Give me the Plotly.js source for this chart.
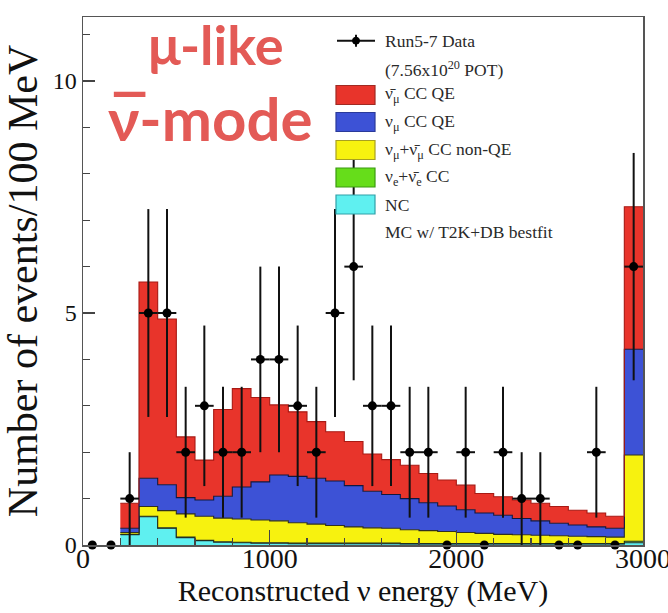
<!DOCTYPE html>
<html>
<head>
<meta charset="utf-8">
<script src="https://cdn.plot.ly/plotly-3.0.1.min.js"></script>
<style>html,body{margin:0;padding:0;background:#fff;}#chart{width:668px;height:613px;}</style>
</head>
<body>
<div id="chart"></div>
<script>
// ---------- data ----------
// MC bin edges (MeV), bins of 100 MeV from 200 to 3000 (last bin = overflow)
const mcEdges = [200,300,400,500,600,700,800,900,1000,1100,1200,1300,1400,1500,1600,1700,1800,1900,2000,2100,2200,2300,2400,2500,2600,2700,2800,2900,3000];
// components (events / 100 MeV) per bin
const mcNC      = [0.22,0.61,0.36,0.16,0.09,0.06,0.05,0.04,0.04,0.03,0.03,0.03,0.03,0.03,0.03,0.02,0.02,0.02,0.02,0.02,0.02,0.02,0.02,0.02,0.02,0.02,0.02,0.05];
const mcNueCC   = [0.01,0.01,0.01,0.01,0.01,0.01,0.01,0.01,0.01,0.01,0.01,0.01,0.01,0.01,0.01,0.01,0.01,0.01,0.01,0.01,0.01,0.01,0.01,0.01,0.01,0.01,0.01,0.03];
const mcNonQE   = [0.04,0.21,0.37,0.50,0.52,0.51,0.50,0.49,0.47,0.44,0.41,0.38,0.35,0.33,0.32,0.30,0.28,0.26,0.24,0.22,0.20,0.19,0.18,0.17,0.16,0.15,0.14,1.86];
const mcNumuQE  = [0.09,0.61,0.56,0.35,0.35,0.47,0.69,0.82,0.99,1.00,0.99,0.96,0.89,0.79,0.73,0.67,0.60,0.55,0.49,0.44,0.41,0.35,0.31,0.27,0.24,0.21,0.19,2.28];
const mcNumubQE = [0.54,4.23,3.57,1.31,0.86,1.87,2.12,1.82,1.51,1.39,1.22,1.06,0.95,0.80,0.75,0.72,0.63,0.56,0.53,0.42,0.40,0.40,0.38,0.36,0.32,0.30,0.26,3.07];

// data points (bin centres, counts, errors)
const dataE   = [50,150,250,350,450,550,650,750,850,950,1050,1150,1250,1350,1450,1550,1650,1750,1850,1950,2050,2150,2250,2350,2450,2550,2650,2750,2850,2950];
const dataN   = [0,0,1,5,5,2,3,2,2,4,4,3,2,5,6,3,3,2,2,0,2,0,2,1,1,0,0,2,0,6];
const dataErr = [0,0,1,2.24,2.24,1.41,1.73,1.41,1.41,2,2,1.73,1.41,2.24,2.45,1.73,1.73,1.41,1.41,0,1.41,0,1.41,1,1,0,0,1.41,0,2.45];
const dataXErr= [0,0,50,50,50,50,50,50,50,50,50,50,50,50,50,50,50,50,50,0,50,0,50,50,50,0,0,50,0,50];

// legend labels
const legendLabels = ['Run5-7 Data','(7.56x10<sup>20</sup> POT)','ν\u0304<sub>μ</sub> CC QE','ν<sub>μ</sub> CC QE','ν<sub>μ</sub>+ν\u0304<sub>μ</sub> CC non-QE','ν<sub>e</sub>+ν\u0304<sub>e</sub> CC','NC','MC w/ T2K+DB bestfit'];

// ---------- styling ----------
const COL = {nc:'#5ff0f0', nue:'#66dd1a', nonqe:'#f7f20f', numu:'#3d52d6', numub:'#e8342b'};
const SERIF = 'Liberation Serif, Times New Roman, serif';
const SANS = 'Lato, Open Sans, sans-serif';

const layers = [
  {name:'NC', vals:mcNC, color:COL.nc, line:'#203040'},
  {name:'νe+ν̄e CC', vals:mcNueCC, color:COL.nue, line:'#203020'},
  {name:'νμ+ν̄μ CC non-QE', vals:mcNonQE, color:COL.nonqe, line:'#303020'},
  {name:'νμ CC QE', vals:mcNumuQE, color:COL.numu, line:'#101840'},
  {name:'ν̄μ CC QE', vals:mcNumubQE, color:COL.numub, line:'#a81a14'}
];

const traces = [];
let cum = mcEdges.slice(0, mcEdges.length-1).map(()=>0);
layers.forEach((L, i) => {
  cum = cum.map((c, k) => c + L.vals[k]);
  const ys = cum.concat([cum[cum.length-1]]);
  traces.push({
    type:'scatter', mode:'lines', x: mcEdges, y: ys, name: L.name,
    line:{shape:'hv', color:L.line, width:1.1},
    fill: i===0 ? 'tozeroy' : 'tonexty', fillcolor: L.color,
    showlegend:false, hoverinfo:'skip'
  });
});

traces.push({
  type:'scatter', mode:'markers', x:dataE, y:dataN, name:'Run5-7 Data',
  marker:{color:'#000', size:9, symbol:'circle'},
  error_y:{type:'data', array:dataErr, visible:true, color:'#111', thickness:2, width:0},
  error_x:{type:'data', array:dataXErr, visible:true, color:'#111', thickness:2, width:0},
  cliponaxis:false, showlegend:false
});

// ---------- custom ROOT-like legend ----------
const M = {l:83, r:25, t:17, b:68};
const PW = 668 - M.l - M.r, PH = 613 - M.t - M.b;
const px = x => (x - M.l) / PW;
const py = y => (613 - M.b - y) / PH;

const rowY = [40.7, 68.5, 95, 122, 150, 177.5, 204.5, 231.5];
const boxColors = [null, null, COL.numub, COL.numu, COL.nonqe, COL.nue, COL.nc, null];
const boxLines  = [null, null, '#a02a22', '#2a3a9a', '#a8a020', '#3a9a10', '#30a0a8', null];
const shapes = [];
const annotations = [];

// data icon
shapes.push({type:'line', xref:'paper', yref:'paper', x0:px(337), x1:px(375), y0:py(rowY[0]), y1:py(rowY[0]), line:{color:'#111', width:2}});
shapes.push({type:'line', xref:'paper', yref:'paper', x0:px(356), x1:px(356), y0:py(rowY[0]-6), y1:py(rowY[0]+6), line:{color:'#111', width:2}});
shapes.push({type:'circle', xref:'paper', yref:'paper', x0:px(352.5), x1:px(359.5), y0:py(rowY[0]-3.5), y1:py(rowY[0]+3.5), fillcolor:'#000', line:{color:'#000', width:1}});

legendLabels.forEach((lab, i) => {
  if (boxColors[i]) {
    shapes.push({type:'rect', xref:'paper', yref:'paper', x0:px(336), x1:px(375), y0:py(rowY[i]-9.5), y1:py(rowY[i]+9.5),
      fillcolor:boxColors[i], line:{color:boxLines[i], width:1.2}});
  }
  annotations.push({xref:'paper', yref:'paper', x:px(383), y:py(rowY[i]), xanchor:'left', yanchor:'middle',
    text:lab, showarrow:false, font:{family:SERIF, size:17.5, color:'#2a2a2a'}});
});

// mode label
annotations.push({xref:'paper', yref:'paper', x:px(146), y:py(44), xanchor:'left', yanchor:'middle',
  text:'μ-like', showarrow:false, font:{family:SANS, size:54, color:'#e35a56', weight:'bold'}});
annotations.push({xref:'paper', yref:'paper', x:px(111), y:py(55), xanchor:'left', yanchor:'middle',
  text:'_', showarrow:false, font:{family:'Open Sans, sans-serif', size:76, color:'#e35a56', weight:'bold'}});
annotations.push({xref:'paper', yref:'paper', x:px(106), y:py(118), xanchor:'left', yanchor:'middle',
  text:'ν-mode', showarrow:false, font:{family:SANS, size:60, color:'#e35a56', weight:'bold'}});

const layout = {
  width:668, height:613,
  margin:{l:M.l, r:M.r, t:M.t, b:M.b, pad:0},
  paper_bgcolor:'#fff', plot_bgcolor:'#fff',
  showlegend:false,
  xaxis:{
    range:[0,3000], dtick:1000, tick0:0,
    ticks:'inside', ticklen:15, tickwidth:1.5, tickcolor:'#444',
    minor:{dtick:200, ticks:'inside', ticklen:7, tickwidth:1.2, tickcolor:'#444'},
    showline:true, mirror:true, linecolor:'#555', linewidth:1.5,
    showgrid:false, zeroline:false,
    ticklabeloverflow:'allow', ticklabelstandoff:-12,
    tickfont:{family:SERIF, size:28, color:'#111'},
    title:{text:'Reconstructed ν energy (MeV)', font:{family:SERIF, size:30, color:'#111'}, standoff:4}
  },
  yaxis:{
    range:[0,11.38], dtick:5, tick0:0,
    ticks:'inside', ticklen:12, tickwidth:1.5, tickcolor:'#444',
    minor:{dtick:1, ticks:'inside', ticklen:7, tickwidth:1.2, tickcolor:'#444'},
    showline:true, mirror:true, linecolor:'#555', linewidth:1.5,
    showgrid:false, zeroline:false,
    tickfont:{family:SERIF, size:24, color:'#111'},
    title:{text:'Number of events/100 MeV', font:{family:SERIF, size:42, color:'#111'}, standoff:4}
  },
  shapes:shapes,
  annotations:annotations
};

Plotly.newPlot('chart', traces, layout, {staticPlot:true, displayModeBar:false});
</script>
</body>
</html>
